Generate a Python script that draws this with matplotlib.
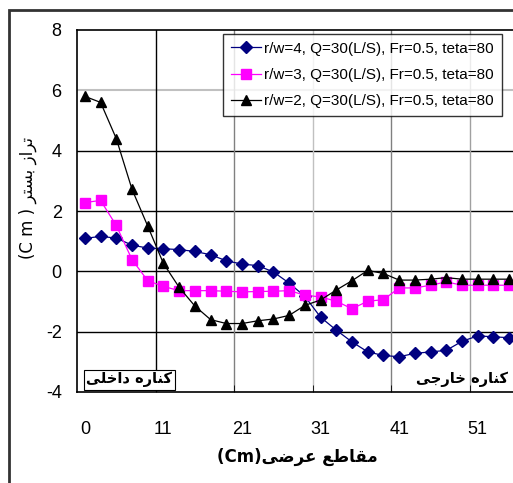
import matplotlib
matplotlib.use('Agg')
import matplotlib.pyplot as plt
from matplotlib.patches import Rectangle

# متن فارسی با حروف نمایشی و به ترتیب چپ به راست نوشته شده
cats = ['0', '', '', '', '', '11', '', '', '', '', '21', '', '', '', '', '31', '', '', '', '', '41', '', '', '', '', '51', '', '']
rw4 = [1.09, 1.16, 1.10, 0.87, 0.77, 0.75, 0.72, 0.66, 0.55, 0.35, 0.24, 0.19, -0.02, -0.39,
       -0.83, -1.52, -1.95, -2.34, -2.67, -2.79, -2.83, -2.72, -2.67, -2.62, -2.32, -2.14, -2.17, -2.20]
rw3 = [2.28, 2.35, 1.52, 0.39, -0.31, -0.50, -0.64, -0.64, -0.64, -0.66, -0.68, -0.67, -0.66, -0.64,
       -0.79, -0.85, -0.99, -1.24, -0.99, -0.94, -0.55, -0.55, -0.46, -0.35, -0.46, -0.46, -0.46, -0.46]
rw2 = [5.80, 5.60, 4.40, 2.72, 1.50, 0.26, -0.53, -1.15, -1.60, -1.73, -1.73, -1.64, -1.58, -1.46,
       -1.13, -0.95, -0.62, -0.31, 0.03, -0.07, -0.29, -0.29, -0.26, -0.21, -0.26, -0.26, -0.26, -0.26]
labels = ['r/w=4, Q=30(L/S), Fr=0.5, teta=80',
          'r/w=3, Q=30(L/S), Fr=0.5, teta=80',
          'r/w=2, Q=30(L/S), Fr=0.5, teta=80']

inner = '\uFEF0\uFEE0\uFEA7\uFE8D\uFEA9 \uFEE9\uFEAD\uFE8E\uFEE8\uFB90'   # کناره داخلی
outer = '\uFEF0\uFE9F\uFEAD\uFE8E\uFEA7 \uFEE9\uFEAD\uFE8E\uFEE8\uFB90'   # کناره خارجی
xlab = '(Cm)\uFEF0\uFEBF\uFEAE\uFECB \uFECA\uFEC3\uFE8E\uFED8\uFEE3'      # مقاطع عرضی(Cm)
ylab_fa = '\uFEAE\uFE98\uFEB4\uFE91 \uFEAF\uFE8D\uFEAE\uFE97'              # تراز بستر

plt.rcParams['font.family'] = ['Liberation Sans', 'DejaVu Sans']
plt.rcParams['axes.unicode_minus'] = False

fig = plt.figure(figsize=(5.13, 4.83), dpi=100)
ax = fig.add_axes([77/513, 91/483, 440/513, 362/483])

x = list(range(len(cats)))
ax.plot(x, rw4, color='#000080', marker='D', ms=6, lw=0.9, label=labels[0])
ax.plot(x, rw3, color='#FF00FF', marker='s', ms=6.5, lw=0.9, label=labels[1])
ax.plot(x, rw2, color='black', marker='^', ms=7, lw=0.9, label=labels[2])

ax.set_xlim(-0.5, len(cats) - 0.5)
ax.set_ylim(-4, 8)
ax.set_yticks(range(-4, 9, 2))
ax.set_xticks(x[::5])
ax.set_xticklabels(cats[::5])
ax.set_xticks([i - 0.5 for i in range(5, len(cats), 5)], minor=True)
ax.tick_params(axis='x', which='major', length=0, pad=21, labelsize=13)
ax.tick_params(axis='x', which='minor', length=5, direction='in')
ax.tick_params(axis='y', length=0, pad=11, labelsize=13)

for yv in [4, 2, 0, -2]:
    ax.axhline(yv, color='black', lw=1, zorder=0)
ax.axhline(6, color='#c0c0c0', lw=1.5, zorder=0)
for xv, c in zip([4.5, 9.5, 14.5, 19.5, 24.5], ['black', '#808080', '#c0c0c0', '#808080', '#a0a0a0']):
    ax.axvline(xv, color=c, lw=1, zorder=0)
for s in ax.spines.values():
    s.set_linewidth(1.2)

ax.text(0.1, -3.85, inner, family=['DejaVu Sans'], fontweight='bold', fontsize=10.5,
        ha='left', va='bottom',
        bbox=dict(boxstyle='square,pad=0.15', fc='white', ec='black', lw=0.8))
ax.text(26.9, -3.85, outer, family=['DejaVu Sans'], fontweight='bold', fontsize=10.5,
        ha='right', va='bottom')

leg = fig.legend(loc='upper left', bbox_to_anchor=(223/513, 1 - 34/483), fontsize=11,
                 frameon=True, fancybox=False, edgecolor='black', borderpad=0.5,
                 labelspacing=0.8, handlelength=2.0, handletextpad=0.2, borderaxespad=0)
leg.get_frame().set_linewidth(1)

fig.text(28/513, 1 - 198/483, '(C m ) ' + ylab_fa, rotation=90, ha='center', va='center',
         fontsize=12, family=['DejaVu Sans'])
fig.text(297/513, 1 - 457/483, xlab, ha='center', va='center', fontsize=12,
         family=['DejaVu Sans'], fontweight='bold')

fig.patches.append(Rectangle((9/513, -0.1), 1.2, 1.1 - 10/483, transform=fig.transFigure,
                             fill=False, ec='#333333', lw=2))

fig.savefig('out.png', dpi=100)
